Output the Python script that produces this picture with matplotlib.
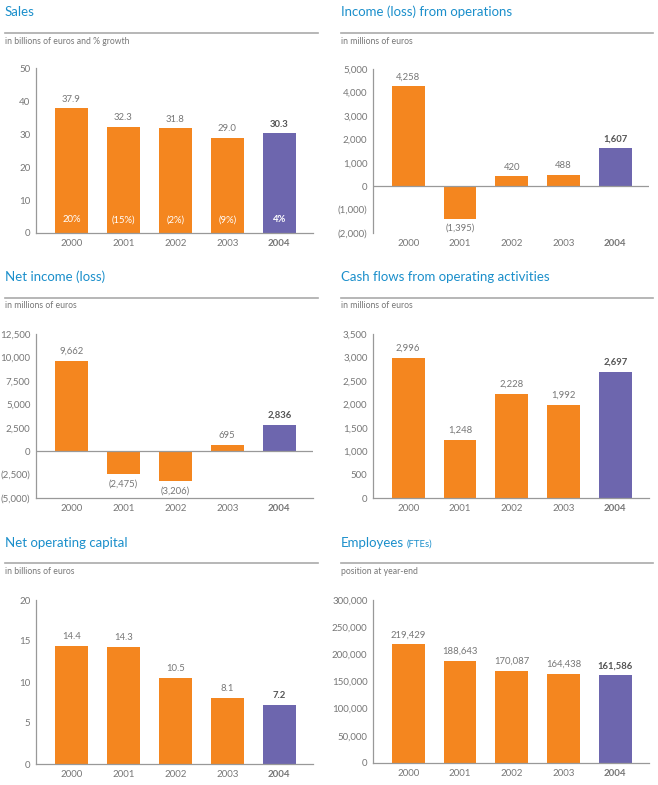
import matplotlib
matplotlib.use('Agg')
import matplotlib.pyplot as plt
from matplotlib.lines import Line2D

plt.rcParams['font.family'] = ['Lato', 'DejaVu Sans']

W, H = 658, 785
ORANGE = '#F4861F'
PURPLE = '#6D66AE'
BLUE = '#1B8FCB'
GREY = '#777777'
DARK = '#555555'

years = ['2000', '2001', '2002', '2003', '2004']

sales = [37.9, 32.3, 31.8, 29.0, 30.3]
sales_growth = ['20%', '(15%)', '(2%)', '(9%)', '4%']
income_ops = [4258, -1395, 420, 488, 1607]
net_income = [9662, -2475, -3206, 695, 2836]
cash_flows = [2996, 1248, 2228, 1992, 2697]
net_op_capital = [14.4, 14.3, 10.5, 8.1, 7.2]
employees = [219429, 188643, 170087, 164438, 161586]


def fmt(v, dec=0):
    s = f'{abs(v):,.{dec}f}'
    return f'({s})' if v < 0 else s


fig = plt.figure(figsize=(W / 100, H / 100), dpi=100)


def header(x0, x1, y_title, y_line, y_sub, title, sub):
    t = fig.text(x0 / W, 1 - y_title / H, title, color=BLUE, fontsize=9.5,
                 va='center', ha='left')
    fig.add_artist(Line2D([x0 / W, x1 / W], [1 - y_line / H] * 2,
                          color='#aaaaaa', lw=1.2))
    fig.text(x0 / W, 1 - y_sub / H, sub, color=GREY, fontsize=6.2,
             va='center', ha='left')
    return t


def panel(left, right, top, bottom, values, ylim, ticks, ticklabels,
          dec=0, bottom_line=True):
    ax = fig.add_axes([left / W, 1 - bottom / H, (right - left) / W,
                       (bottom - top) / H])
    x = list(range(len(values)))
    colors = [ORANGE] * (len(values) - 1) + [PURPLE]
    ax.bar(x, values, width=0.635, color=colors, zorder=2)
    ax.set_ylim(*ylim)
    ax.set_xlim(-0.68, 4.65)
    ax.set_yticks(ticks)
    ax.set_yticklabels(ticklabels)
    ax.set_xticks(x)
    ax.set_xticklabels(years)
    ax.get_xticklabels()[-1].set_fontweight('bold')
    ax.get_xticklabels()[-1].set_color(DARK)
    ax.tick_params(length=0, labelsize=7, colors=GREY, pad=4)
    for s in ['top', 'right']:
        ax.spines[s].set_visible(False)
    for s in ['left', 'bottom']:
        ax.spines[s].set_color('#999999')
        ax.spines[s].set_linewidth(0.9)
    if not bottom_line:
        ax.spines['bottom'].set_visible(False)
    if ylim[0] < 0:
        ax.axhline(0, color='#999999', lw=0.9, zorder=3)
    for i, v in enumerate(values):
        last = i == len(values) - 1
        off = 6.5 if v >= 0 else -7
        ax.annotate(fmt(v, dec), (i, v), xytext=(0, off),
                    textcoords='offset points', ha='center', va='center',
                    fontsize=6.8, color=DARK if last else GREY,
                    fontweight='bold' if last else 'normal')
    return ax


# Row 1
header(5, 318, 12, 33, 41, 'Sales', 'in billions of euros and % growth')
ax = panel(36, 313, 68.5, 233, sales, (0, 50), [0, 10, 20, 30, 40, 50],
           ['0', '10', '20', '30', '40', '50'], dec=1)
for i, g in enumerate(sales_growth):
    ax.text(i, 4, g, ha='center', va='center', color='white', fontsize=6.8,
            fontweight='bold' if i == 4 else 'normal')

header(341, 653, 12, 33, 41, 'Income (loss) from operations',
       'in millions of euros')
panel(373, 649, 69, 233, income_ops, (-2000, 5000),
      [-2000, -1000, 0, 1000, 2000, 3000, 4000, 5000],
      ['(2,000)', '(1,000)', '0', '1,000', '2,000', '3,000', '4,000', '5,000'],
      bottom_line=False)

# Row 2
header(5, 318, 277, 298, 306, 'Net income (loss)', 'in millions of euros')
panel(36, 313, 334, 498, net_income, (-5000, 12500),
      [-5000, -2500, 0, 2500, 5000, 7500, 10000, 12500],
      ['(5,000)', '(2,500)', '0', '2,500', '5,000', '7,500', '10,000', '12,500'])

header(341, 653, 277, 298, 306, 'Cash flows from operating activities',
       'in millions of euros')
panel(373, 649, 334, 498, cash_flows, (0, 3500),
      [0, 500, 1000, 1500, 2000, 2500, 3000, 3500],
      ['0', '500', '1,000', '1,500', '2,000', '2,500', '3,000', '3,500'])

# Row 3
header(5, 318, 543, 563, 571, 'Net operating capital', 'in billions of euros')
panel(36, 313, 600, 764, net_op_capital, (0, 20), [0, 5, 10, 15, 20],
      ['0', '5', '10', '15', '20'], dec=1)

emp_title = header(341, 653, 543, 563, 571, 'Employees', 'position at year-end')
panel(373, 649, 600, 763, employees, (0, 300000),
      [0, 50000, 100000, 150000, 200000, 250000, 300000],
      ['0', '50,000', '100,000', '150,000', '200,000', '250,000', '300,000'])

# place "(FTEs)" right after the title text
renderer = fig.canvas.get_renderer()
bb = emp_title.get_window_extent(renderer)
fig.text((bb.x1 + 3) / W, 1 - 544 / H, '(FTEs)', color=BLUE, fontsize=6.8,
         va='center', ha='left')

fig.savefig('out.png', dpi=100)
